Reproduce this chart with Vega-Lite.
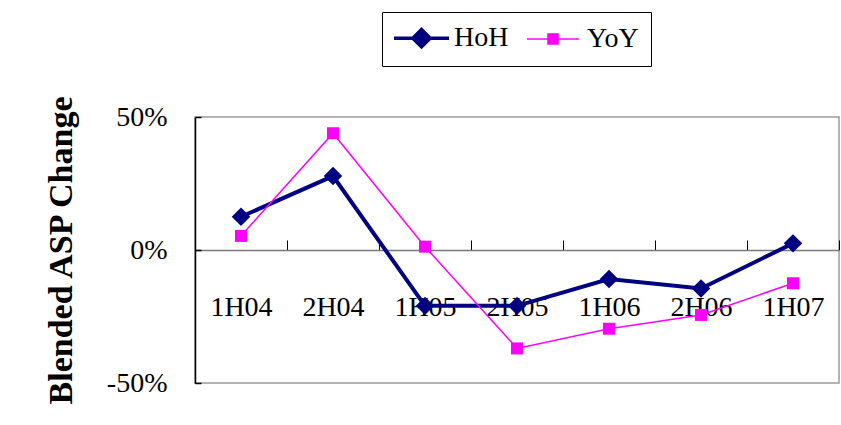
{
  "$schema": "https://vega.github.io/schema/vega-lite/v6.json",
  "autosize": {"type": "none"},
  "width": 644,
  "height": 266,
  "padding": {"left": 195, "top": 117, "right": 2, "bottom": 42},
  "background": "white",
  "config": {
    "font": "Liberation Serif",
    "view": {"stroke": "#9a9a9a", "strokeWidth": 1.5}
  },
  "data": {
    "values": [
      {"period": "1H04", "series": "HoH", "value": 0.125},
      {"period": "2H04", "series": "HoH", "value": 0.278},
      {"period": "1H05", "series": "HoH", "value": -0.21},
      {"period": "2H05", "series": "HoH", "value": -0.21},
      {"period": "1H06", "series": "HoH", "value": -0.109},
      {"period": "2H06", "series": "HoH", "value": -0.145},
      {"period": "1H07", "series": "HoH", "value": 0.025},
      {"period": "1H04", "series": "YoY", "value": 0.053},
      {"period": "2H04", "series": "YoY", "value": 0.439},
      {"period": "1H05", "series": "YoY", "value": 0.0125},
      {"period": "2H05", "series": "YoY", "value": -0.37},
      {"period": "1H06", "series": "YoY", "value": -0.296},
      {"period": "2H06", "series": "YoY", "value": -0.244},
      {"period": "1H07", "series": "YoY", "value": -0.125}
    ]
  },
  "encoding": {
    "x": {
      "field": "period",
      "type": "nominal",
      "sort": null,
      "scale": {"domain": ["1H04", "2H04", "1H05", "2H05", "1H06", "2H06", "1H07"], "paddingInner": 0, "paddingOuter": 0},
      "axis": {
        "title": null,
        "offset": -133,
        "tickBand": "extent",
        "tickSize": -10,
        "tickColor": "black",
        "tickWidth": 1,
        "domainColor": "#7a7a7a",
        "domainWidth": 1.5,
        "labelAngle": 0,
        "labelFont": "Liberation Serif",
        "labelFontSize": 28,
        "labelColor": "black",
        "labelPadding": 53,
        "grid": false,
        "zindex": 0
      }
    },
    "y": {
      "field": "value",
      "type": "quantitative",
      "scale": {"domain": [-0.5, 0.5], "nice": false, "zero": false},
      "axis": {
        "values": [-0.5, 0, 0.5],
        "format": ".0%",
        "labelExpr": "replace(datum.label, '\u2212', '-')",
        "title": "Blended ASP Change",
        "titleFont": "Liberation Serif",
        "titleFontSize": 34,
        "titleFontWeight": "bold",
        "titleColor": "black",
        "titlePadding": 28,
        "labelFont": "Liberation Serif",
        "labelFontSize": 28,
        "labelColor": "black",
        "labelPadding": 34,
        "tickSize": -6,
        "tickColor": "black",
        "tickWidth": 1.5,
        "domainColor": "black",
        "domainWidth": 1.5,
        "grid": false,
        "zindex": 0
      }
    },
    "color": {
      "field": "series",
      "type": "nominal",
      "scale": {"domain": ["HoH", "YoY"], "range": ["#000080", "#ff00ff"]},
      "legend": {
        "title": null,
        "orient": "none",
        "legendX": 187,
        "legendY": -105,
        "direction": "horizontal",
        "columns": 2,
        "strokeColor": "black",
        "fillColor": "white",
        "padding": 12,
        "symbolSize": 576,
        "labelFont": "Liberation Serif",
        "labelFontSize": 28,
        "labelColor": "black",
        "labelOffset": 32,
        "columnPadding": 14,
        "encode": {
          "symbols": {
            "update": {
              "shape": {"signal": "datum.value === 'HoH' ? 'M-1.17,0L3.42,0M1.125,-0.72L1.845,0L1.125,0.72L0.405,0Z' : 'M-1.17,0L3.16,0M0.58,-0.42L1.42,-0.42L1.42,0.42L0.58,0.42Z'"},
              "fill": {"signal": "datum.value === 'HoH' ? '#000080' : '#ff00ff'"},
              "stroke": {"signal": "datum.value === 'HoH' ? '#000080' : '#ff00ff'"},
              "strokeWidth": {"signal": "datum.value === 'HoH' ? 3.5 : 1.5"},
              "opacity": {"value": 1},
              "fillOpacity": {"value": 1},
              "strokeOpacity": {"value": 1}
            }
          }
        }
      }
    }
  },
  "layer": [
    {
      "mark": {"type": "line", "strokeWidth": 4},
      "transform": [{"filter": "datum.series === 'HoH'"}]
    },
    {
      "mark": {"type": "point", "filled": true, "opacity": 1, "shape": "diamond", "size": 340},
      "transform": [{"filter": "datum.series === 'HoH'"}]
    },
    {
      "mark": {"type": "line", "strokeWidth": 1.5},
      "transform": [{"filter": "datum.series === 'YoY'"}]
    },
    {
      "mark": {"type": "point", "filled": true, "opacity": 1, "shape": "square", "size": 144},
      "transform": [{"filter": "datum.series === 'YoY'"}]
    }
  ]
}
